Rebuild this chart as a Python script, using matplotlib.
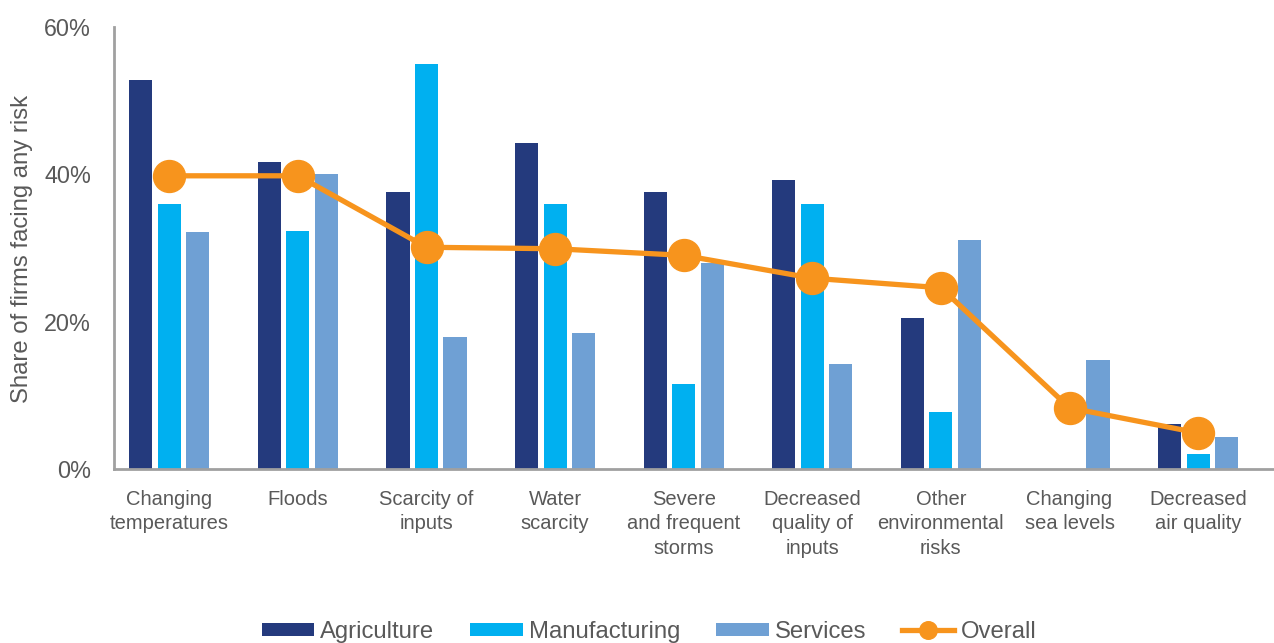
import matplotlib
matplotlib.use("Agg")
import matplotlib.pyplot as plt
import numpy as np

plt.rcParams["font.family"] = ["Liberation Sans", "DejaVu Sans"]

# ----------------------------
# DATOS
# ----------------------------
categorias = [
    "Changing\ntemperatures", "Floods", "Scarcity of\ninputs", "Water\nscarcity",
    "Severe\nand frequent\nstorms", "Decreased\nquality of\ninputs", "Other\nenvironmental\nrisks",
    "Changing\nsea levels", "Decreased\nair quality",
]
agricultura = [52.8, 41.7, 37.6, 44.3, 37.6, 39.2, 20.5, 0.0, 6.1]
manufactura = [36.0, 32.3, 55.0, 36.0, 11.5, 36.0, 7.7, 0.0, 2.0]
servicios = [32.2, 40.0, 17.9, 18.5, 28.0, 14.3, 31.1, 14.8, 4.3]
total = [39.8, 39.8, 30.1, 29.9, 29.0, 25.9, 24.6, 8.3, 4.9]
y_ticks = [0, 20, 40, 60]

C_AGRI = "#243A7D"
C_MANU = "#00B0F0"
C_SERV = "#6FA0D4"
C_TOTAL = "#F7941D"
GRIS = "#595959"

fig = plt.figure(figsize=(12.74, 6.43), dpi=100)
ax = fig.add_axes([114 / 1274, (643 - 469) / 643, (1274 - 114) / 1274, (469 - 27) / 643])

x = np.arange(len(categorias))
w = 0.18
paso = 0.222
ax.bar(x - paso, agricultura, w, color=C_AGRI, label="Agriculture")
ax.bar(x, manufactura, w, color=C_MANU, label="Manufacturing")
ax.bar(x + paso, servicios, w, color=C_SERV, label="Services")
ax.plot(x, total, color=C_TOTAL, lw=3.8, marker="o", markersize=23, label="Overall")

ax.set_xlim(-0.43, 8.59)
ax.set_ylim(0, 60)
ax.set_yticks(y_ticks)
ax.set_yticklabels([f"{v}%" for v in y_ticks], fontsize=16.8, color=GRIS)
ax.set_xticks(x)
ax.set_xticklabels(categorias, fontsize=14.5, color=GRIS, linespacing=1.36)
ax.tick_params(axis="both", length=0)
ax.tick_params(axis="x", pad=15)
ax.tick_params(axis="y", pad=16.5)

for lado in ["top", "right"]:
    ax.spines[lado].set_visible(False)
for lado in ["left", "bottom"]:
    ax.spines[lado].set_color("#A0A0A0")
    ax.spines[lado].set_linewidth(2)

fig.text(22 / 1274, 1 - 249 / 643, "Share of firms facing any risk", rotation=90,
         fontsize=17.2, color=GRIS, ha="center", va="center")

h, l = ax.get_legend_handles_labels()
orden = [1, 2, 3, 0]
fig.legend([h[i] for i in orden], [l[i] for i in orden], loc="center",
           bbox_to_anchor=(649 / 1274, 1 - 632 / 643), ncol=4, frameon=False,
           fontsize=17.2, labelcolor=GRIS, handlelength=2.2, handleheight=0.5,
           handletextpad=0.25, columnspacing=1.5, markerscale=0.55)

fig.savefig("out.png", dpi=100)
